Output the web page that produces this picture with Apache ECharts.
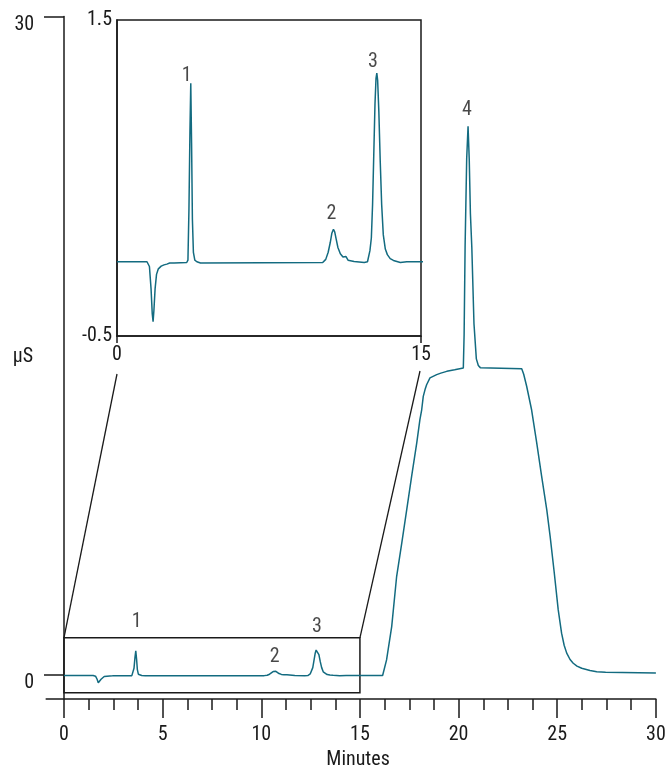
<!DOCTYPE html>
<html><head><meta charset="utf-8">
<script src="https://cdn.jsdelivr.net/npm/echarts@6/dist/echarts.min.js"></script>
<style>html,body{margin:0;padding:0;background:#fff}#c{width:665px;height:768px}</style>
</head><body><div id="c"></div>
<script>
// Chromatogram trace (minutes, µS)
const timeMin = [
  0, 1.48, 1.6, 1.68, 1.74, 1.78, 1.82, 1.88, 1.95, 2.04, 2.18, 2.32, 2.46, 2.53, 2.6, 2.67, 2.82, 3.44,
  3.5, 3.55, 3.6, 3.64, 3.68, 3.72, 3.77, 3.84, 3.94, 4.12,
  10.15, 10.3, 10.42, 10.52, 10.6, 10.68, 10.74, 10.82, 10.9, 11.02, 11.15, 11.22, 11.3, 11.4, 11.7, 12.2,
  12.36, 12.48, 12.55, 12.61, 12.67, 12.73, 12.78, 12.82, 12.86, 12.92, 12.99, 13.06, 13.14, 13.24, 13.34, 13.48, 13.64, 13.98, 14.3,
  16.15, 16.2, 16.35, 16.61, 16.86, 17.12, 17.37, 17.62, 17.88, 18.04, 18.13, 18.21, 18.3, 18.38, 18.55, 18.89, 19.1, 19.4, 19.8, 20.24,
  20.28, 20.33, 20.41, 20.48, 20.54, 20.6, 20.67, 20.78, 20.9, 21.0, 21.1,
  23.2, 23.3, 23.45, 23.7, 23.96, 24.21, 24.47, 24.64, 24.85, 25.05, 25.22, 25.35, 25.48, 25.65, 25.81, 26.0, 26.24, 26.66, 26.8, 27.0, 27.45, 27.5, 30
];
const conductance = [
  -0.03, -0.03, -0.06, -0.2, -0.36, -0.41, -0.34, -0.2, -0.11, -0.075, -0.058, -0.05, -0.045, -0.052, -0.038, -0.045, -0.038, -0.035,
  -0.02, 0.3, 0.8, 1.1, 0.72, 0.24, 0.03, -0.02, -0.03, -0.038,
  -0.035, -0.015, 0.03, 0.09, 0.15, 0.175, 0.16, 0.11, 0.06, 0.02, 0.0, -0.005, 0.003, -0.02, -0.028, -0.035,
  -0.03, 0.04, 0.12, 0.33, 0.65, 0.97, 1.13, 1.164, 1.12, 0.92, 0.6, 0.33, 0.14, 0.05, 0.015, -0.01, -0.022, -0.035, -0.03,
  -0.03, 0.03, 0.68, 2.2, 4.48, 6.0, 7.52, 9.04, 10.57, 11.63, 12.08, 12.69, 13.0, 13.22, 13.53, 13.68, 13.75, 13.83, 13.9, 13.98,
  15.5, 19.5, 23.5, 25.0, 23.5, 21.0, 19.5, 16.0, 14.4, 14.1, 14.0,
  13.95, 13.7, 13.15, 12.08, 10.57, 9.04, 7.52, 6.31, 4.64, 2.96, 1.9, 1.35, 0.99, 0.7, 0.53, 0.4, 0.3, 0.2, 0.18, 0.14, 0.12, 0.08, 0.08
];
const peakNames = ['1', '2', '3', '4'];
const peakTimes = [3.64, 10.68, 12.82, 20.48];
const peakHeights = [1.1, 0.175, 1.164, 25.0];
const mainXLabels = [0, 5, 10, 15, 20, 25, 30];
const mainXMinorStep = 1.25;
const mainYLabels = [0, 30];
const insetXLabels = [0, 15];
const insetYLabels = [-0.5, 1.5];
const zoomBoxX = [0, 15];
const zoomBoxY = [-0.82, 1.69];
const xTitle = 'Minutes';
const yTitle = 'µS';

const F = "'Liberation Sans Narrow', 'Arial Narrow', 'Roboto Condensed', 'DejaVu Sans Condensed', sans-serif";
const INK = '#1a1a1a';
const LINE = '#136b80';

const minorTicks = [];
for (let v = mainXLabels[0]; v <= mainXLabels[mainXLabels.length - 1] + 1e-9; v += mainXMinorStep) minorTicks.push(+v.toFixed(2));

const trace = timeMin.map((t, i) => [t, conductance[i]]);
const mainLabelOffsets = [[1, -29], [0, -14], [0, -22], [-1, -16]];
const insetLabelOffsets = [[-4, -7], [-2, -15], [-4, -11]];

const txt = {fontSize: 20, fontFamily: F, color: INK};

const chart = echarts.init(document.getElementById('c'), null, {renderer: 'canvas'});
chart.setOption({
  animation: false,
  backgroundColor: '#fff',
  grid: [
    {left: 46.2, top: 16.5, width: 609.7, height: 682.5, containLabel: false, outerBoundsMode: 'none'},
    {left: 117, top: 20, width: 304, height: 316, show: true, borderColor: INK, borderWidth: 1.5,
     backgroundColor: 'transparent', containLabel: false, outerBoundsMode: 'none'}
  ],
  xAxis: [
    {type: 'value', gridIndex: 0, position: 'bottom', min: -0.9, max: 30,
     axisLine: {onZero: false, lineStyle: {color: INK, width: 1.5}},
     axisTick: {customValues: mainXLabels, length: 19, lineStyle: {color: INK, width: 1.5}},
     axisLabel: Object.assign({customValues: mainXLabels, margin: 26}, txt),
     splitLine: {show: false},
     name: xTitle, nameLocation: 'middle', nameGap: 50,
     nameTextStyle: Object.assign({padding: [0, 0, 0, 14]}, txt)},
    {type: 'value', gridIndex: 0, position: 'bottom', min: -0.9, max: 30,
     axisLine: {show: false, onZero: false},
     axisTick: {customValues: minorTicks, length: 11, lineStyle: {color: INK, width: 1.5}},
     axisLabel: {show: false}, splitLine: {show: false}},
    {type: 'value', gridIndex: 1, position: 'bottom', min: 0, max: 15,
     axisLine: {onZero: false, lineStyle: {color: INK, width: 1.5}},
     axisTick: {customValues: insetXLabels, length: 7, lineStyle: {color: INK, width: 1.5}},
     axisLabel: Object.assign({customValues: insetXLabels, margin: 9}, txt),
     splitLine: {show: false}}
  ],
  yAxis: [
    {type: 'value', gridIndex: 0, min: -1.1, max: 30,
     axisLine: {onZero: true, lineStyle: {color: INK, width: 1.5}},
     axisTick: {customValues: mainYLabels, length: 20, lineStyle: {color: INK, width: 1.5}},
     axisLabel: {customValues: mainYLabels, margin: 12, formatter: v => '{p|' + v + '}',
       rich: {p: Object.assign({padding: [16, 0, 0, 0]}, txt)}},
     splitLine: {show: false}},
    {type: 'value', gridIndex: 1, min: -0.5, max: 1.5,
     axisLine: {onZero: false, lineStyle: {color: INK, width: 1.5}},
     axisTick: {show: false},
     axisLabel: Object.assign({customValues: insetYLabels, margin: 5}, txt),
     splitLine: {show: false}}
  ],
  series: [
    {type: 'line', xAxisIndex: 0, yAxisIndex: 0, data: trace, showSymbol: false,
     lineStyle: {color: LINE, width: 1.5}, z: 3,
     markArea: {silent: true, itemStyle: {color: 'rgba(0,0,0,0)', borderColor: INK, borderWidth: 1.5},
       data: [[{coord: [zoomBoxX[0], zoomBoxY[0]]}, {coord: [zoomBoxX[1], zoomBoxY[1]]}]]}},
    {type: 'line', xAxisIndex: 2, yAxisIndex: 1, data: trace, showSymbol: false,
     lineStyle: {color: LINE, width: 1.5}, clip: true, z: 3},
    {type: 'scatter', xAxisIndex: 0, yAxisIndex: 0, symbolSize: 0, silent: true,
     data: peakNames.map((n, i) => ({value: [peakTimes[i], peakHeights[i]], name: n,
       label: {show: true, position: 'inside', offset: mainLabelOffsets[i], formatter: n, ...txt}}))},
    {type: 'scatter', xAxisIndex: 2, yAxisIndex: 1, symbolSize: 0, silent: true,
     data: peakNames.slice(0, 3).map((n, i) => ({value: [peakTimes[i], peakHeights[i]], name: n,
       label: {show: true, position: 'inside', offset: insetLabelOffsets[i], formatter: n, ...txt}}))}
  ]
});

const a1 = chart.convertToPixel({xAxisIndex: 0, yAxisIndex: 0}, [zoomBoxX[0], zoomBoxY[1]]);
const a2 = chart.convertToPixel({xAxisIndex: 0, yAxisIndex: 0}, [zoomBoxX[1], zoomBoxY[1]]);
const b1 = chart.convertToPixel({xAxisIndex: 2, yAxisIndex: 1}, [insetXLabels[0], insetYLabels[0]]);
const b2 = chart.convertToPixel({xAxisIndex: 2, yAxisIndex: 1}, [insetXLabels[1], insetYLabels[0]]);
const yMid = chart.convertToPixel({xAxisIndex: 0, yAxisIndex: 0}, [0, 14.47]);
chart.setOption({
  graphic: [
    {type: 'line', shape: {x1: a1[0], y1: a1[1], x2: b1[0], y2: b1[1] + 38}, style: {stroke: INK, lineWidth: 1.3}},
    {type: 'line', shape: {x1: a2[0], y1: a2[1], x2: b2[0] - 1, y2: b2[1] + 35}, style: {stroke: INK, lineWidth: 1.3}},
    {type: 'text', x: yMid[0] - 41, y: yMid[1], style: {text: yTitle, fill: INK, font: '20px ' + F, align: 'center', verticalAlign: 'middle'}}
  ]
});
</script>
</body></html>
